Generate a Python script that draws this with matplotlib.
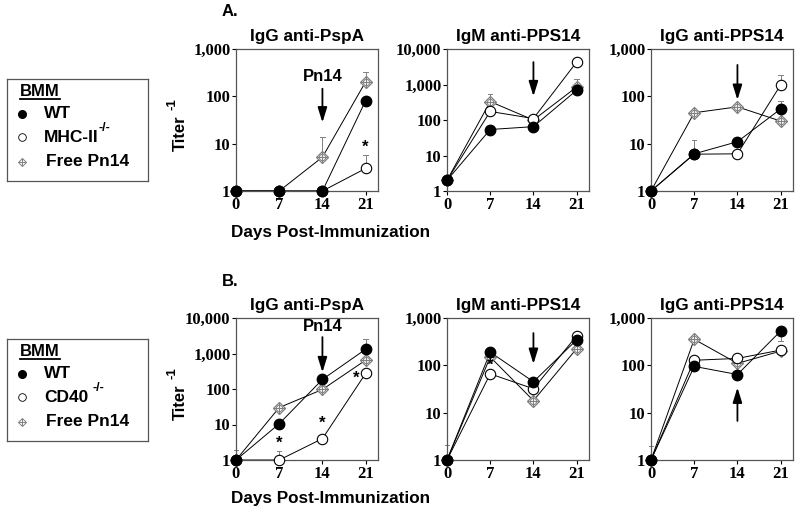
import numpy as np
import matplotlib
matplotlib.use('Agg')
import matplotlib.pyplot as plt

plt.rcParams['font.family'] = ['Liberation Sans', 'DejaVu Sans']

days = [0, 7, 14, 21]
day_labels = ['0', '7', '14', '21']

# ---- Panel A (WT / MHC-II-/- / Free Pn14) ----
a_titles = ['IgG anti-PspA', 'IgM anti-PPS14', 'IgG anti-PPS14']
a_ymax = [1000, 10000, 1000]
a_wt = [[1, 1, 1, 81], [2, 54, 65, 690], [1, 6.1, 11, 54]]
a_ko = [[1, 1, 1, 3.0], [2, 174, 110, 4300], [1, 6, 6.1, 174]]
a_free = [[1, 1, 5.2, 203], [2, 330, 100, 850], [1, 45, 60, 30]]
# upper error bar ends (None = no bar)
a_wt_err = [[None, None, None, None], [None, None, None, None], [None, 12, None, 80]]
a_ko_err = [[None, None, None, 5.7], [None, None, None, None], [None, None, None, 280]]
a_free_err = [[None, None, 14, 330], [None, 530, None, 1400], [None, None, None, None]]
a_arrows = [(145, 28), (4270, 465), (460, 84)]
a_stars = [[(21, 8.4)], [], []]

# ---- Panel B (WT / CD40-/- / Free Pn14) ----
b_titles = ['IgG anti-PspA', 'IgM anti-PPS14', 'IgG anti-PPS14']
b_ymax = [10000, 1000, 1000]
b_wt = [[1, 10.5, 186, 1320], [1, 190, 45, 345], [1, 95, 64, 530]]
b_ko = [[1, 1, 4, 275], [1, 66, 32, 420], [1, 128, 140, 210]]
b_free = [[1, 30, 97, 650], [1, 150, 18, 225], [1, 355, 110, 200]]
b_wt_err = [[1.9, None, None, 2500], [2.1, None, None, None], [2.0, None, None, 320]]
b_ko_err = [[None, 1.8, None, None], [None, None, None, None], [None, None, None, None]]
b_free_err = [[None, None, None, None], [None, None, None, None], [None, None, None, None]]
b_arrows = [(2900, 295), (480, 107), (6.7, 34)]
b_stars = [[(7, 3.0), (14, 10.5), (19.4, 200)], [(7, 100)], []]

W, H = 800, 512
col_left = [236, 447, 651]
col_w = 142
row_top = {'A': 49, 'B': 318}
row_h = 142

serif = 'Liberation Serif'
grey = '#808080'


def draw_errors(ax, vals, ends):
    for x, v, e in zip(days, vals, ends):
        if e is None:
            continue
        ax.plot([x, x], [v, e], color=grey, lw=0.7, zorder=1, clip_on=False)
        ax.plot([x - 0.35, x + 0.35], [e, e], color=grey, lw=0.7, zorder=1,
                clip_on=False)


def draw_panel(ax, title, ymax, wt, ko, free, wt_err, ko_err, free_err,
               arrow, stars, pn14_label):
    ax.set_yscale('log')
    ax.set_xlim(0, 23)
    ax.set_ylim(1, ymax)
    draw_errors(ax, wt, wt_err)
    draw_errors(ax, ko, ko_err)
    draw_errors(ax, free, free_err)
    ax.plot(days, free, color='k', lw=0.7, zorder=2, clip_on=False)
    ax.plot(days, ko, color='k', lw=0.7, zorder=2, clip_on=False)
    ax.plot(days, wt, color='k', lw=0.7, zorder=2, clip_on=False)
    ax.plot(days, free, ls='none', marker='D', ms=6.5, mfc='white', mec=grey,
            mew=0.9, zorder=3, clip_on=False)
    ax.plot(days, free, ls='none', marker='o', ms=4.5, mfc='none', mec=grey,
            mew=0.7, zorder=3, clip_on=False)
    ax.plot(days, free, ls='none', marker='+', ms=8, mec=grey, mew=0.8,
            zorder=3, clip_on=False)
    ax.plot(days, ko, ls='none', marker='o', ms=7.5, mfc='white', mec='k',
            mew=0.8, zorder=4, clip_on=False)
    ax.plot(days, wt, ls='none', marker='o', ms=7.5, mfc='k', mec='k',
            zorder=5, clip_on=False)
    ax.annotate('', xy=(14, arrow[1]), xytext=(14, arrow[0]),
                arrowprops=dict(arrowstyle='-|>,head_length=0.9,head_width=0.28',
                                color='k', lw=1.3, shrinkA=0, shrinkB=0))
    if pn14_label is not None:
        ax.text(14, pn14_label, 'Pn14', ha='center', va='center',
                fontsize=12, fontweight='bold')
    for sx, sy in stars:
        ax.text(sx, sy, '*', ha='center', va='center', fontsize=12,
                fontweight='bold')
    ax.set_title(title, fontsize=12.4, fontweight='bold', pad=6)
    ticks = [10 ** k for k in range(int(np.log10(ymax)) + 1)]
    ax.set_yticks(ticks)
    ax.set_yticklabels(['{:,}'.format(t) for t in ticks])
    ax.yaxis.set_minor_locator(matplotlib.ticker.NullLocator())
    ax.set_xticks(days)
    ax.set_xticklabels(day_labels)
    ax.tick_params(direction='out', length=3, width=0.8, pad=1,
                   labelsize=12)
    for lab in ax.get_xticklabels() + ax.get_yticklabels():
        lab.set_fontfamily(serif)
        lab.set_fontweight('bold')
    for sp in ax.spines.values():
        sp.set_color('#555555')
        sp.set_linewidth(0.9)


def draw_legend(fig, top, ko_label, ko_gap):
    lax = fig.add_axes([7 / W, 1 - (top + 102) / H, 141 / W, 102 / H])
    lax.set_xlim(0, 141)
    lax.set_ylim(102, 0)
    lax.set_xticks([])
    lax.set_yticks([])
    for sp in lax.spines.values():
        sp.set_color('#555555')
        sp.set_linewidth(0.9)
    lax.text(13, 13, 'BMM', fontsize=12, fontweight='bold', va='center')
    lax.plot([13, 53], [19.5, 19.5], color='k', lw=1.3)
    rows = [(35, 'WT'), (58, ko_label), (83, 'Free Pn14')]
    lax.plot(15, rows[0][0], marker='o', ms=5.5, mfc='k', mec='k')
    lax.plot(15, rows[1][0], marker='o', ms=5.5, mfc='white', mec='k', mew=0.6)
    lax.plot(15, rows[2][0], marker='D', ms=4.5, mfc='white', mec=grey, mew=0.7)
    lax.plot(15, rows[2][0], marker='+', ms=6, mec=grey, mew=0.7)
    for i, (y, lab) in enumerate(rows):
        t = lax.text(37 if i < 2 else 39, y, lab, fontsize=12.5,
                     fontweight='bold', va='center')
        if i == 1:
            lax.annotate('-/-', xy=(1, 1), xycoords=t,
                         xytext=(ko_gap, 1), textcoords='offset points',
                         ha='left', va='center', fontsize=9,
                         fontweight='bold')


fig = plt.figure(figsize=(8, 5.12), dpi=100)

for row, data in (('A', (a_titles, a_ymax, a_wt, a_ko, a_free, a_wt_err,
                         a_ko_err, a_free_err, a_arrows, a_stars)),
                  ('B', (b_titles, b_ymax, b_wt, b_ko, b_free, b_wt_err,
                         b_ko_err, b_free_err, b_arrows, b_stars))):
    titles, ymaxs, wts, kos, frees, wte, koe, fre, arrows, stars = data
    top = row_top[row]
    for i in range(3):
        ax = fig.add_axes([col_left[i] / W, 1 - (top + row_h) / H,
                           col_w / W, row_h / H])
        pn = None
        if i == 0:
            pn = 257 if row == 'A' else 5900
        draw_panel(ax, titles[i], ymaxs[i], wts[i], kos[i], frees[i],
                   wte[i], koe[i], fre[i], arrows[i], stars[i], pn)
    t = fig.text(180 / W, 1 - (top + 84) / H, 'Titer', rotation=90,
                 ha='center', va='center', fontsize=12, fontweight='bold')
    fig.text(172 / W, 1 - (top + 55) / H, '-1', rotation=90,
             ha='center', va='center', fontsize=9.5, fontweight='bold')
    fig.text(331 / W, 1 - (top + 184) / H if row == 'A' else 1 - 498 / H,
             'Days Post-Immunization', ha='center', va='center',
             fontsize=12.3, fontweight='bold')
    fig.text(222 / W, 1 - (top - 37) / H, row + '.', ha='left',
             va='center', fontsize=12, fontweight='bold')

draw_legend(fig, 79, 'MHC-II', 0)
draw_legend(fig, 339, 'CD40', 3)

fig.savefig('out.png', dpi=100)
